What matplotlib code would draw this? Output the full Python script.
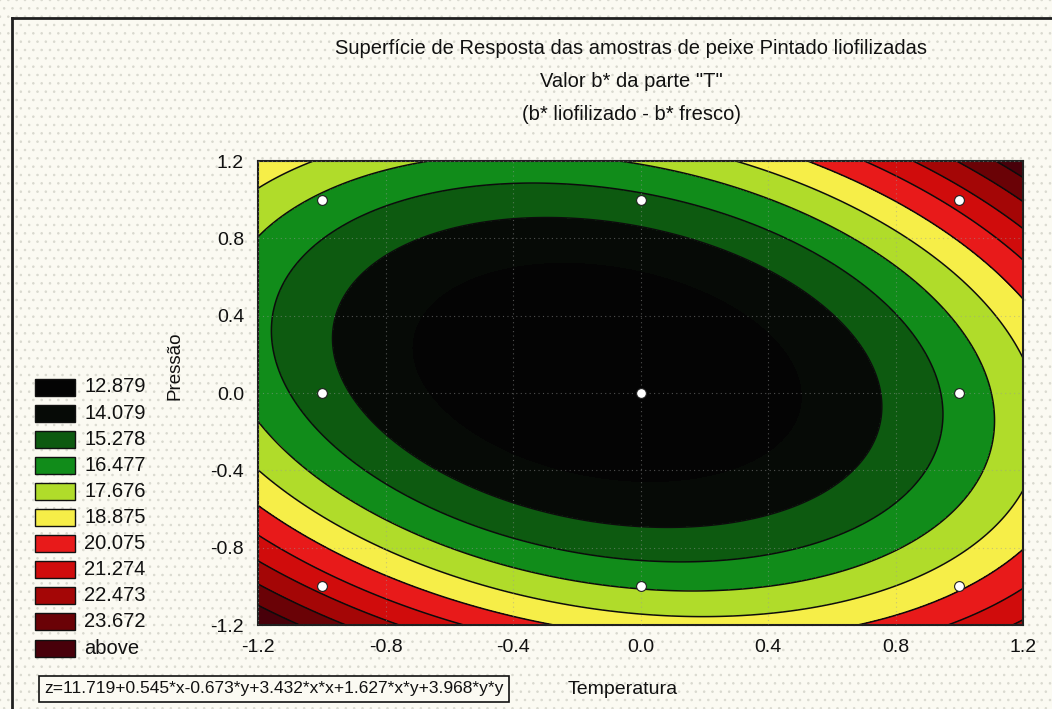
import numpy as np
import matplotlib
matplotlib.use("Agg")
import matplotlib.pyplot as plt
from matplotlib.patches import Rectangle
from matplotlib.lines import Line2D

# ---- data ----
# fitted response-surface coefficients shown in the chart's equation box
coef_names = ["b0", "x", "y", "x*x", "x*y", "y*y"]
coef_values = [11.719, 0.545, -0.673, 3.432, 1.627, 3.968]
level_values = [12.879, 14.079, 15.278, 16.477, 17.676, 18.875,
                20.075, 21.274, 22.473, 23.672]
legend_labels = ["12.879", "14.079", "15.278", "16.477", "17.676", "18.875",
                 "20.075", "21.274", "22.473", "23.672", "above"]
level_colors = ["#040404", "#060a06", "#0d5a10", "#118c1a", "#b0dc2a",
                "#f6ee48", "#e81a1a", "#d00c0c", "#a40606", "#6a0206", "#48000a"]
design_x = [-1, -1, -1, 0, 0, 0, 1, 1, 1]
design_y = [-1, 0, 1, -1, 0, 1, -1, 0, 1]
tick_values = [-1.2, -0.8, -0.4, 0.0, 0.4, 0.8, 1.2]
tick_labels = ["-1.2", "-0.8", "-0.4", "0.0", "0.4", "0.8", "1.2"]
title_lines = ["Superfície de Resposta das amostras de peixe Pintado liofilizadas",
               "Valor b* da parte \"T\"",
               "(b* liofilizado - b* fresco)"]
equation = "z=11.719+0.545*x-0.673*y+3.432*x*x+1.627*x*y+3.968*y*y"
xlabel = "Temperatura"
ylabel = "Pressão"

# ---- surface ----
gx = np.linspace(-1.2, 1.2, 400)
gy = np.linspace(-1.2, 1.2, 400)
X, Y = np.meshgrid(gx, gy)
b0, bx, by, bxx, bxy, byy = coef_values
Z = b0 + bx * X + by * Y + bxx * X * X + bxy * X * Y + byy * Y * Y

plt.rcParams["font.family"] = ["Liberation Sans Narrow", "Liberation Sans", "DejaVu Sans"]
plt.rcParams["hatch.color"] = "#d9d9cf"
plt.rcParams["hatch.linewidth"] = 0.6

W, H = 1052, 709
fig = plt.figure(figsize=(W / 100, H / 100), dpi=100)
bg = "#fbfaf2"
fig.patch.set_facecolor(bg)

def fx(px):
    return px / W

def fy(py):
    return 1 - py / H

# dotted background
fig.add_artist(Rectangle((0, 0), 1, 1, transform=fig.transFigure,
                         facecolor=bg, edgecolor="#d9d9cf", hatch="..",
                         linewidth=0, zorder=-10))
# outer frame lines
fig.add_artist(Line2D([fx(12), fx(12)], [fy(18), 0], transform=fig.transFigure,
                      color="#202020", lw=2))
fig.add_artist(Line2D([fx(12), 1], [fy(18), fy(18)], transform=fig.transFigure,
                      color="#202020", lw=2))

ax = fig.add_axes([fx(258), fy(625), fx(1023) - fx(258), fy(161) - fy(625)])
bounds = [min(Z.min(), level_values[0]) - 1] + level_values + [Z.max() + 1]
ax.contourf(X, Y, Z, levels=bounds, colors=level_colors)
ax.contour(X, Y, Z, levels=level_values[1:], colors="#0c0c0c", linewidths=1.1)
ax.grid(True, color="#9a9a9a", linestyle=(0, (1, 3)), linewidth=0.8, alpha=0.5)
ax.set_axisbelow(False)
ax.scatter(design_x, design_y, s=50, facecolor="white", edgecolor="#202020",
           linewidth=0.8, zorder=5)
ax.set_xlim(-1.2, 1.2)
ax.set_ylim(-1.2, 1.2)
ax.set_xticks(tick_values)
ax.set_xticklabels(tick_labels)
ax.set_yticks(tick_values)
ax.set_yticklabels(tick_labels)
ax.tick_params(length=0, labelsize=14, pad=10, colors="#111111")
for s in ax.spines.values():
    s.set_linewidth(1.5)
    s.set_color("#202020")

# titles
for i, t in enumerate(title_lines):
    fig.text(fx(631), fy(48 + 33.5 * i), t, ha="center", va="center",
             fontsize=14.5, color="#111111")

# axis labels
fig.text(fx(175), fy(366), ylabel, rotation=90, ha="center", va="center",
         fontsize=13.5, color="#111111")
fig.text(fx(568), fy(690), xlabel, ha="left", va="center", fontsize=14,
         color="#111111")

# equation box
fig.text(fx(44), fy(689), equation, ha="left", va="center", fontsize=12.5,
         color="#111111",
         bbox=dict(boxstyle="square,pad=0.3", facecolor=bg, edgecolor="#111111",
                   linewidth=1.2))

# legend
for i, (lab, col) in enumerate(zip(legend_labels, level_colors)):
    yc = 387 + 26.1 * i
    fig.add_artist(Rectangle((fx(35), fy(yc + 8.5)), fx(40), 17 / H,
                             transform=fig.transFigure, facecolor=col,
                             edgecolor="#111111", linewidth=1.0))
    fig.text(fx(84), fy(yc), lab, ha="left", va="center", fontsize=14.5,
             color="#111111")

fig.savefig("out.png", dpi=100, facecolor=bg)
